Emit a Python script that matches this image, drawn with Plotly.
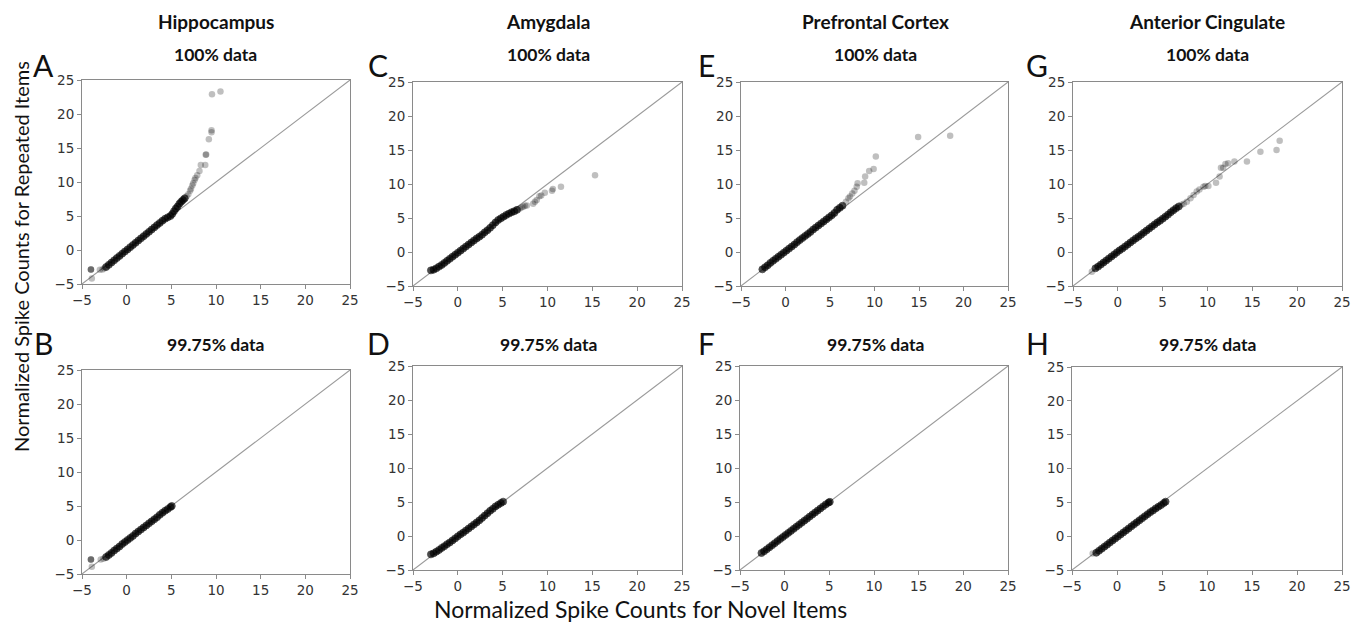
import plotly.graph_objects as go

PAGE_W, PAGE_H = 1363, 631
BODY_MARGIN = 8                      # browser default body margin
W, H = PAGE_W - 2 * BODY_MARGIN, PAGE_H - 2 * BODY_MARGIN

# ---------------- data (quantile pairs) ----------------
axis_range = [-5, 25]
tick_vals = [-5, 0, 5, 10, 15, 20, 25]

region_titles = ["Hippocampus", "Amygdala", "Prefrontal Cortex", "Anterior Cingulate"]
row_titles = ["100% data", "99.75% data"]
panel_letters_top = ["A", "C", "E", "G"]
panel_letters_bottom = ["B", "D", "F", "H"]

# Hippocampus, 100%
hip100_core_x = [-2.3, -2.0, -1.7, -1.4, -1.1, -0.8, -0.5, -0.2, 0.1, 0.4, 0.7, 1.0, 1.3, 1.6, 1.9, 2.2, 2.5,
                 2.8, 3.1, 3.4, 3.7, 4.0, 4.3, 4.6, 4.9, 5.1, 5.3, 5.5, 5.7, 5.9, 6.1, 6.3, 6.5]
hip100_core_y = [-2.5, -2.18, -1.85, -1.52, -1.19, -0.87, -0.54, -0.22, 0.09, 0.42, 0.74, 1.06, 1.39, 1.71,
                 2.04, 2.36, 2.68, 3.01, 3.33, 3.66, 3.98, 4.3, 4.6, 4.8, 5.0, 5.3, 5.7, 6.1, 6.4, 6.8, 7.1,
                 7.35, 7.6]
hip100_tail_x = [-4.0, -4.0, -4.0, -3.9, -3.0, -2.7, -2.5, 6.7, 6.9, 7.1, 7.2, 7.35, 7.45, 7.6, 7.7, 7.9, 8.15,
                 8.3, 8.8, 8.85, 8.9, 9.2, 9.5, 9.5, 9.55, 10.5]
hip100_tail_y = [-2.85, -2.85, -2.85, -4.2, -2.9, -2.85, -2.7, 7.9, 8.2, 8.7, 9.0, 9.5, 9.8, 10.3, 10.6, 11.0,
                 11.6, 12.5, 12.5, 14.0, 14.05, 16.3, 17.3, 17.6, 22.9, 23.3]

# Amygdala, 100%
amy100_core_x = [-3.0, -2.7, -2.4, -2.1, -1.8, -1.5, -1.2, -0.9, -0.6, -0.3, 0.0, 0.3, 0.6, 0.9, 1.2, 1.5, 1.8,
                 2.1, 2.4, 2.7, 3.0, 3.3, 3.6, 3.9, 4.2, 4.5, 4.8, 5.1, 5.4, 5.7, 6.0, 6.3, 6.6]
amy100_core_y = [-2.7, -2.6, -2.4, -2.15, -1.9, -1.6, -1.3, -1.0, -0.7, -0.4, -0.1, 0.2, 0.5, 0.8, 1.1, 1.4,
                 1.7, 2.0, 2.25, 2.55, 2.9, 3.2, 3.55, 3.95, 4.35, 4.7, 4.95, 5.2, 5.45, 5.65, 5.85, 6.0, 6.2]
amy100_tail_x = [6.9, 7.1, 7.3, 7.5, 7.7, 8.4, 8.6, 8.8, 9.1, 9.3, 9.7, 10.5, 10.6, 11.5, 15.3]
amy100_tail_y = [6.4, 6.55, 6.65, 6.8, 6.85, 7.1, 7.4, 7.65, 8.2, 8.3, 8.7, 9.0, 9.25, 9.6, 11.3]

# Prefrontal Cortex, 100%
pfc100_core_x = [-2.6, -2.3, -2.0, -1.7, -1.4, -1.1, -0.8, -0.5, -0.2, 0.1, 0.4, 0.7, 1.0, 1.3, 1.6, 1.9, 2.2,
                 2.5, 2.8, 3.1, 3.4, 3.7, 4.0, 4.3, 4.6, 4.9, 5.2, 5.5, 5.8, 6.1, 6.4]
pfc100_core_y = [-2.55, -2.25, -1.95, -1.6, -1.3, -1.0, -0.7, -0.4, -0.1, 0.2, 0.5, 0.8, 1.1, 1.45, 1.75, 2.05,
                 2.35, 2.65, 2.95, 3.3, 3.6, 3.9, 4.2, 4.5, 4.8, 5.1, 5.4, 5.75, 6.2, 6.5, 6.8]
pfc100_tail_x = [6.8, 7.07, 7.25, 7.5, 7.75, 8.0, 8.1, 8.85, 8.95, 9.4, 9.9, 10.15, 14.9, 18.5]
pfc100_tail_y = [7.4, 7.9, 8.15, 8.6, 9.0, 9.6, 10.1, 10.2, 11.1, 11.9, 12.2, 14.05, 16.9, 17.1]

# Anterior Cingulate, 100%
acc100_core_x = [-2.5, -2.2, -1.9, -1.6, -1.3, -1.0, -0.7, -0.4, -0.1, 0.2, 0.5, 0.8, 1.1, 1.4, 1.7, 2.0, 2.3,
                 2.6, 2.9, 3.2, 3.5, 3.8, 4.1, 4.4, 4.7, 5.0, 5.3, 5.6, 5.9, 6.2, 6.5, 6.8]
acc100_core_y = [-2.4, -2.15, -1.85, -1.55, -1.25, -0.95, -0.65, -0.35, -0.05, 0.25, 0.5, 0.8, 1.1, 1.4, 1.7,
                 2.0, 2.25, 2.55, 2.85, 3.15, 3.45, 3.75, 4.05, 4.35, 4.6, 4.9, 5.2, 5.5, 5.85, 6.15, 6.45, 6.7]
acc100_tail_x = [-2.9, 7.1, 7.35, 7.7, 8.1, 8.45, 8.8, 9.1, 9.55, 9.75, 10.1, 10.95, 11.35, 11.5, 11.75, 12.0,
                 12.3, 13.0, 14.4, 15.9, 17.7, 18.05]
acc100_tail_y = [-2.9, 6.95, 7.1, 7.4, 7.9, 8.4, 8.9, 9.2, 9.6, 9.7, 9.7, 10.2, 11.1, 12.4, 12.4, 12.95, 13.05,
                 13.3, 13.3, 14.75, 15.0, 16.35]

# Hippocampus, 99.75%
hip99_core_x = [-2.3, -2.0, -1.7, -1.4, -1.1, -0.8, -0.5, -0.2, 0.1, 0.4, 0.7, 1.0, 1.3, 1.6, 1.9, 2.2, 2.5,
                2.8, 3.1, 3.4, 3.7, 4.0, 4.3, 4.6, 4.9, 5.05]
hip99_core_y = [-2.5, -2.2, -1.9, -1.55, -1.25, -0.95, -0.6, -0.3, 0.0, 0.3, 0.6, 0.95, 1.25, 1.55, 1.85, 2.15,
                2.45, 2.75, 3.05, 3.35, 3.7, 4.0, 4.3, 4.55, 4.85, 5.0]
hip99_tail_x = [-4.0, -4.0, -4.0, -3.9, -2.9, -2.6]
hip99_tail_y = [-2.85, -2.85, -2.85, -3.95, -2.85, -2.75]

# Amygdala, 99.75%
amy99_core_x = [-3.0, -2.7, -2.4, -2.1, -1.8, -1.5, -1.2, -0.9, -0.6, -0.3, 0.0, 0.3, 0.6, 0.9, 1.2, 1.5, 1.8,
                2.1, 2.4, 2.7, 3.0, 3.3, 3.6, 3.9, 4.2, 4.5, 4.8, 5.05]
amy99_core_y = [-2.7, -2.55, -2.3, -2.05, -1.75, -1.5, -1.2, -0.95, -0.65, -0.35, -0.05, 0.25, 0.5, 0.8, 1.1,
                1.4, 1.7, 2.0, 2.3, 2.65, 3.0, 3.35, 3.7, 4.0, 4.35, 4.6, 4.85, 5.05]
amy99_tail_x = []
amy99_tail_y = []

# Prefrontal Cortex, 99.75%
pfc99_core_x = [-2.6, -2.3, -2.0, -1.7, -1.4, -1.1, -0.8, -0.5, -0.2, 0.1, 0.4, 0.7, 1.0, 1.3, 1.6, 1.9, 2.2,
                2.5, 2.8, 3.1, 3.4, 3.7, 4.0, 4.3, 4.6, 4.9, 5.05]
pfc99_core_y = [-2.5, -2.25, -1.95, -1.65, -1.35, -1.05, -0.75, -0.45, -0.15, 0.15, 0.45, 0.75, 1.05, 1.35,
                1.65, 1.95, 2.25, 2.55, 2.85, 3.15, 3.45, 3.75, 4.05, 4.35, 4.65, 4.9, 5.02]
pfc99_tail_x = []
pfc99_tail_y = []

# Anterior Cingulate, 99.75%
acc99_core_x = [-2.3, -2.0, -1.7, -1.4, -1.1, -0.8, -0.5, -0.2, 0.1, 0.4, 0.7, 1.0, 1.3, 1.6, 1.9, 2.2, 2.5,
                2.8, 3.1, 3.4, 3.7, 4.0, 4.3, 4.6, 4.9, 5.2, 5.4]
acc99_core_y = [-2.45, -2.15, -1.85, -1.55, -1.25, -0.95, -0.65, -0.35, -0.05, 0.25, 0.55, 0.85, 1.15, 1.45,
                1.75, 2.05, 2.35, 2.65, 2.95, 3.25, 3.55, 3.8, 4.1, 4.35, 4.6, 4.9, 5.1]
acc99_tail_x = [-2.7]
acc99_tail_y = [-2.55]

# ---------------- layout geometry (page pixels) ----------------
# (left, right, top, bottom) of each plot area
panels = [
    ((82, 350, 80, 284), hip100_core_x, hip100_core_y, hip100_tail_x, hip100_tail_y),
    ((413, 682, 82, 286), amy100_core_x, amy100_core_y, amy100_tail_x, amy100_tail_y),
    ((741, 1008, 82, 286), pfc100_core_x, pfc100_core_y, pfc100_tail_x, pfc100_tail_y),
    ((1073, 1342, 82, 286), acc100_core_x, acc100_core_y, acc100_tail_x, acc100_tail_y),
    ((82, 350, 370, 574), hip99_core_x, hip99_core_y, hip99_tail_x, hip99_tail_y),
    ((413, 682, 366, 570), amy99_core_x, amy99_core_y, amy99_tail_x, amy99_tail_y),
    ((740, 1008, 366, 570), pfc99_core_x, pfc99_core_y, pfc99_tail_x, pfc99_tail_y),
    ((1072, 1342, 367, 570), acc99_core_x, acc99_core_y, acc99_tail_x, acc99_tail_y),
]


def px_x(p):
    return (p - BODY_MARGIN) / W


def px_y(p):
    return 1 - (p - BODY_MARGIN) / H


fig = go.Figure()
layout_axes = {}
TITLE_FONT = "Lato, 'Open Sans', sans-serif"
TICK_FONT = "DejaVu Sans, sans-serif"

for i, (box, cx, cy, tx, ty) in enumerate(panels):
    n = i + 1
    xa = "x" if n == 1 else f"x{n}"
    ya = "y" if n == 1 else f"y{n}"
    l, r, t, b = box
    common = dict(
        range=axis_range, tickvals=tick_vals, showgrid=False, zeroline=False,
        showline=True, mirror=True, linecolor="#8a8a8a", linewidth=1,
        ticks="outside", ticklen=4, tickcolor="#8a8a8a", tickwidth=1,
        tickfont=dict(family=TICK_FONT, size=13.5, color="#333333"),
        fixedrange=True, automargin=False,
    )
    layout_axes["xaxis" if n == 1 else f"xaxis{n}"] = dict(
        domain=[px_x(l), px_x(r)], anchor=ya, **common)
    layout_axes["yaxis" if n == 1 else f"yaxis{n}"] = dict(
        domain=[px_y(b), px_y(t)], anchor=xa, **common)

    # identity reference line
    fig.add_trace(go.Scatter(x=axis_range, y=axis_range, mode="lines",
                             line=dict(color="#9a9a9a", width=1.1),
                             xaxis=xa, yaxis=ya, showlegend=False, hoverinfo="skip"))
    # tail quantiles (sparse, light)
    if tx:
        fig.add_trace(go.Scatter(x=tx, y=ty, mode="markers",
                                 marker=dict(size=6.5, color="black", opacity=0.25, line=dict(width=0)),
                                 xaxis=xa, yaxis=ya, showlegend=False))
    # bulk quantiles (dense, dark)
    fig.add_trace(go.Scatter(x=cx, y=cy, mode="markers",
                             marker=dict(size=7, color="black", opacity=0.7,
                                         line=dict(width=0.8, color="black")),
                             xaxis=xa, yaxis=ya, showlegend=False))


def ann(text, px, py, size, angle=0):
    return dict(text=text, x=px_x(px), y=px_y(py), xref="paper", yref="paper", showarrow=False,
                xanchor="center", yanchor="middle", textangle=angle,
                font=dict(family=TITLE_FONT, size=size, color="#111111"))


annotations = []
col_centers = [216, 548, 875, 1207]
for c, title in zip(col_centers, region_titles):
    annotations.append(ann(f"<b>{title}</b>", c, 22, 19))
    annotations.append(ann(f"<b>{row_titles[0]}</b>", c, 55, 17.5))
    annotations.append(ann(f"<b>{row_titles[1]}</b>", c, 344, 17.5))

letter_x = [43, 378, 706, 1037]
for lx, lt, lb in zip(letter_x, panel_letters_top, panel_letters_bottom):
    annotations.append(ann(lt, lx, 65, 30))
    annotations.append(ann(lb, lx, 343, 30))

annotations.append(ann("Normalized Spike Counts for Repeated Items", 21, 257, 20, angle=-90))
annotations.append(ann("Normalized Spike Counts for Novel Items", 640, 609, 23))

fig.update_layout(
    width=W, height=H, margin=dict(l=0, r=0, t=0, b=0, pad=0, autoexpand=False),
    paper_bgcolor="white", plot_bgcolor="white",
    showlegend=False, annotations=annotations, **layout_axes,
)

fig.write_html("out.html")
